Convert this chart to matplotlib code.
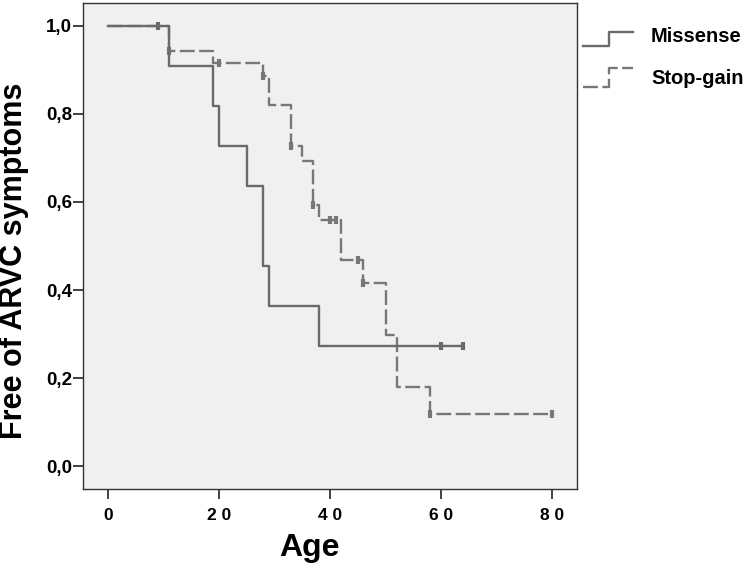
import matplotlib
matplotlib.use("Agg")
import matplotlib.pyplot as plt
from matplotlib.lines import Line2D

# ---- data ----
missense_times = [0, 11, 19, 20, 25, 28, 29, 38, 64]
missense_surv = [1.0, 0.909, 0.818, 0.727, 0.636, 0.455, 0.364, 0.273, 0.273]
missense_cens_t = [9, 60, 64]
missense_cens_s = [1.0, 0.273, 0.273]

stop_times = [0, 11, 19, 28, 29, 33, 35, 37, 38, 42, 46, 50, 52, 58, 80]
stop_surv = [1.0, 0.944, 0.915, 0.887, 0.82, 0.727, 0.692, 0.594, 0.56,
             0.468, 0.416, 0.297, 0.179, 0.119, 0.119]
stop_cens_t = [11, 20, 28, 33, 37, 40, 41, 45, 46, 58, 80]
stop_cens_s = [0.944, 0.915, 0.887, 0.727, 0.594, 0.56, 0.56, 0.468, 0.416, 0.119, 0.119]

x_ticks = [0, 20, 40, 60, 80]
y_ticks = [0.0, 0.2, 0.4, 0.6, 0.8, 1.0]
labels = ["Missense", "Stop-gain"]

plt.rcParams['font.family'] = ['Liberation Sans', 'DejaVu Sans']

W, H = 743, 565
fig = plt.figure(figsize=(W / 100, H / 100), dpi=100)
ax = fig.add_axes([83 / W, 1 - 489 / H, (577 - 83) / W, (489 - 3) / H])
ax.set_facecolor('#f0f0f0')

c_solid = '#6a6a6a'
c_dash = '#777777'
dash = (0, (6.3, 1.9))

ax.step(stop_times, stop_surv, where='post', color=c_dash, lw=1.7, linestyle=dash, zorder=2)
ax.plot(stop_cens_t, stop_cens_s, linestyle='none', marker='|', ms=6, mew=3, color=c_dash, zorder=2)
ax.step(missense_times, missense_surv, where='post', color=c_solid, lw=1.7, zorder=3)
ax.plot(missense_cens_t, missense_cens_s, linestyle='none', marker='|', ms=6, mew=3, color=c_solid, zorder=3)

ax.set_xlim(-4.5, 84.5)
ax.set_ylim(-0.052, 1.052)
ax.set_xticks(x_ticks)
ax.set_xticklabels([" ".join(str(v)) for v in x_ticks], fontweight='bold', fontsize=12.5)
ax.set_yticks(y_ticks)
ax.set_yticklabels([f"{v:.1f}".replace('.', ',') for v in y_ticks],
                   fontweight='bold', fontsize=13.5)
ax.tick_params(axis='both', direction='out', length=7, width=1.2, color='#222222')
ax.tick_params(axis='x', pad=7)
ax.tick_params(axis='y', pad=1)
for sp in ax.spines.values():
    sp.set_color('#333333')
    sp.set_linewidth(1.0)

ax.set_xlabel("Age", fontsize=23, fontweight='bold')
ax.xaxis.set_label_coords((309 - 83) / (577 - 83), -(548 - 489) / (489 - 3), transform=ax.transAxes)
ax.xaxis.label.set_va('center')
ax.set_ylabel("Free of ARVC symptoms", fontsize=22, fontweight='bold')
ax.yaxis.set_label_coords(-(83 - 14) / (577 - 83), (489 - 261) / (489 - 3), transform=ax.transAxes)
ax.yaxis.label.set_va('center')

# legend (outside, right)
def fx(px):
    return px / W

def fy(py):
    return 1 - py / H

fig.add_artist(Line2D([fx(583), fx(609), fx(609), fx(633)], [fy(46), fy(46), fy(32), fy(32)],
                      color=c_solid, lw=1.7, transform=fig.transFigure))
fig.add_artist(Line2D([fx(583), fx(609), fx(609), fx(633)], [fy(87), fy(87), fy(68), fy(68)],
                      color=c_dash, lw=1.7, linestyle=dash, transform=fig.transFigure))
fig.text(fx(651), fy(37), labels[0], fontsize=14.5, fontweight='bold', va='center', ha='left')
fig.text(fx(651), fy(78), labels[1], fontsize=14.5, fontweight='bold', va='center', ha='left')

fig.savefig("out.png", dpi=100, facecolor='white')
